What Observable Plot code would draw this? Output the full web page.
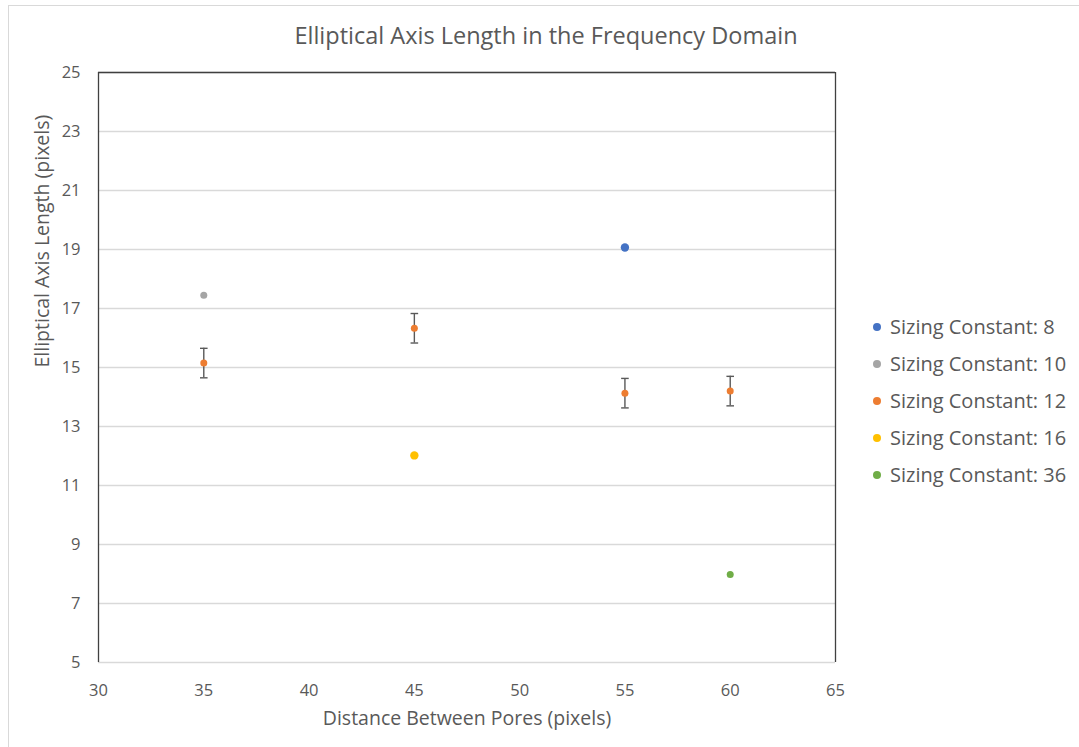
<!DOCTYPE html>
<html>
<head>
<meta charset="utf-8">
<script src="https://cdn.jsdelivr.net/npm/d3@7"></script>
<script src="https://cdn.jsdelivr.net/npm/@observablehq/plot@0.6"></script>
<style>
  html, body { margin: 0; padding: 0; background: #fff; }
  #wrap { position: relative; width: 1079px; height: 747px; overflow: hidden; font-family: "Open Sans", sans-serif; color: #595959; }
  #border { position: absolute; left: 8px; top: 5px; right: -2px; bottom: -2px; border: 1px solid #d9d9d9; }
  #title { position: absolute; left: 0; width: 1092px; top: 19px; text-align: center; font-size: 23.5px; color: #595959; }
  #legend { position: absolute; left: 870px; top: 308px; }
  .item { display: flex; align-items: center; height: 37px; font-size: 20px; color: #595959; white-space: nowrap; }
  .sw { width: 8px; height: 8px; border-radius: 50%; margin-right: 9px; margin-left: 3px; flex: none; }
  #chart { position: absolute; left: 0; top: 0; }
</style>
</head>
<body>
<div id="wrap">
  <div id="border"></div>
  <div id="chart"></div>
  <div id="title">Elliptical Axis Length in the Frequency Domain</div>
  <div id="legend"></div>
</div>
<script>
// ---- Data ----
const seriesNames = ["Sizing Constant: 8", "Sizing Constant: 10", "Sizing Constant: 12", "Sizing Constant: 16", "Sizing Constant: 36"];
const seriesColors = ["#4472C4", "#A5A5A5", "#ED7D31", "#FFC000", "#70AD47"];

const sc8X = [55];
const sc8Y = [19.07];
const sc10X = [35];
const sc10Y = [17.45];
const sc12X = [35, 45, 55, 60];
const sc12Y = [15.15, 16.33, 14.13, 14.2];
const sc12Err = [0.5, 0.5, 0.5, 0.5];
const sc16X = [45];
const sc16Y = [12.02];
const sc36X = [60];
const sc36Y = [7.98];

const xTicks = [30, 35, 40, 45, 50, 55, 60, 65];
const yTicks = [5, 7, 9, 11, 13, 15, 17, 19, 21, 23, 25];

const xTitle = "Distance Between Pores (pixels)";
const yTitle = "Elliptical Axis Length (pixels)";

// ---- Build tables ----
const toRows = (xs, ys, s) => xs.map((x, i) => ({x, y: ys[i], s}));
const allSeries = [
  toRows(sc8X, sc8Y, 0),
  toRows(sc10X, sc10Y, 1),
  toRows(sc12X, sc12Y, 2),
  toRows(sc16X, sc16Y, 3),
  toRows(sc36X, sc36Y, 4)
];
const errRows = sc12X.map((x, i) => ({x, lo: sc12Y[i] - sc12Err[i], hi: sc12Y[i] + sc12Err[i]}));
const capRows = errRows.flatMap(d => [{x: d.x, y: d.lo}, {x: d.x, y: d.hi}]);

const capSymbol = {
  draw(context, size) {
    const w = Math.sqrt(size / Math.PI);
    context.moveTo(-w, 0);
    context.lineTo(w, 0);
  }
};

const dotR = [4.2, 3.5, 3.5, 4.2, 3.5];

const chart = Plot.plot({
  width: 1079,
  height: 747,
  marginLeft: 98,
  marginRight: 244,
  marginTop: 72,
  marginBottom: 85,
  style: {fontFamily: "Open Sans, sans-serif", fontSize: "16px", color: "#595959", background: "transparent"},
  x: {domain: [xTicks[0], xTicks[xTicks.length - 1]]},
  y: {domain: [yTicks[0], yTicks[yTicks.length - 1]]},
  marks: [
    Plot.gridY(yTicks, {stroke: "#d9d9d9", strokeOpacity: 1, strokeWidth: 1.3}),
    Plot.ruleX([xTicks[0], xTicks[xTicks.length - 1]], {stroke: "#404040", strokeWidth: 1.3}),
    Plot.ruleY([yTicks[yTicks.length - 1]], {stroke: "#404040", strokeWidth: 1.3}),
    Plot.axisY(yTicks, {tickSize: 0, tickPadding: 18, label: null, fontSize: 16.5}),
    Plot.axisX(xTicks, {tickSize: 0, tickPadding: 22, label: null, fontSize: 16.5}),
    Plot.text([xTitle], {frameAnchor: "bottom", dy: 62, fontSize: 19.5, fill: "#595959", text: d => d}),
    Plot.text([yTitle], {frameAnchor: "left", dx: -56, rotate: -90, fontSize: 19.5, fill: "#595959", text: d => d}),
    Plot.ruleX(errRows, {x: "x", y1: "lo", y2: "hi", stroke: "#595959", strokeWidth: 1.4}),
    Plot.dot(capRows, {x: "x", y: "y", symbol: capSymbol, r: 3.8, stroke: "#595959", strokeWidth: 1.4, fill: "none"}),
    ...allSeries.map((rows, i) => Plot.dot(rows, {x: "x", y: "y", r: dotR[i], fill: seriesColors[i], stroke: "none"}))
  ]
});
document.getElementById("chart").appendChild(chart);

const legend = document.getElementById("legend");
seriesNames.forEach((name, i) => {
  const item = document.createElement("div");
  item.className = "item";
  const sw = document.createElement("span");
  sw.className = "sw";
  sw.style.background = seriesColors[i];
  const t = document.createElement("span");
  t.textContent = name;
  item.appendChild(sw);
  item.appendChild(t);
  legend.appendChild(item);
});
</script>
</body>
</html>
